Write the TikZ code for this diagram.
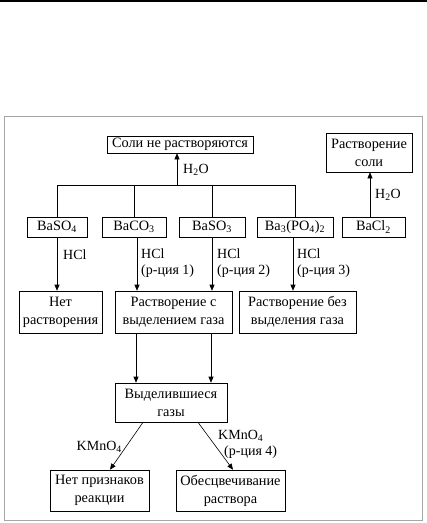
\documentclass[tikz,border=0pt]{standalone}
\usepackage{fontspec}
\setmainfont{Liberation Serif}
\usetikzlibrary{arrows.meta}
\usetikzlibrary{positioning}

\begin{document}
\begin{tikzpicture}[x=1pt,y=-1pt,
    box/.style={draw,line width=0.6pt,align=center,inner sep=0pt,
      font=\fontsize{14.3}{18}\selectfont},
    lbl/.style={anchor=west,inner sep=0pt,align=left,
      font=\fontsize{14}{16}\selectfont},
    arr/.style={-{Triangle[length=6pt,width=5pt]},line width=0.6pt}]
        \useasboundingbox (0,0) rectangle (427,523);
        \draw[line width=1.5pt] (0,1) -- (427,1);
        \draw[gray!70,line width=0.8pt] (4,116) rectangle (422,520);

        % top row
        \node[box,minimum width=146,minimum height=17] (insol) at (180,144.5) {Соли не растворяются};
        \node[box,minimum width=86,minimum height=39] (soluble) at (369,152.5) {Растворение\\соли};

        % salts
        \node[box,minimum width=60,minimum height=20] (so4) at (57,227) {BaSO\textsubscript{4}};
        \node[box,minimum width=64,minimum height=20] (co3) at (134,227) {BaCO\textsubscript{3}};
        \node[box,minimum width=66,minimum height=20] (so3) at (212,227) {BaSO\textsubscript{3}};
        \node[box,minimum width=76,minimum height=20] (po4) at (295,227) {Ba\textsubscript{3}(PO\textsubscript{4})\textsubscript{2}};
        \node[box,minimum width=63,minimum height=20] (cl2) at (373.5,227) {BaCl\textsubscript{2}};

        % after HCl
        \node[box,minimum width=83,minimum height=42] (nodiss) at (60.5,312) {Нет\\растворения};
        \node[box,minimum width=117,minimum height=42] (gasdiss) at (173.5,312) {Растворение с\\выделением газа};
        \node[box,minimum width=117,minimum height=42] (nogas) at (297.5,312) {Растворение без\\выделения газа};

        \node[box,minimum width=112,minimum height=39] (gases) at (171,402.5) {Выделившиеся\\газы};
        \node[box,minimum width=99,minimum height=41] (noreact) at (99.5,490.5) {Нет признаков\\реакции};
        \node[box,minimum width=109,minimum height=41] (decolor) at (230.5,490.5) {Обесцвечивание\\раствора};

        % water
        \coordinate (bus) at (177,185);
        \draw[line width=0.6pt] (so4.north) -- (so4.north |- bus) -- (po4.north |- bus) -- (po4.north);
        \draw[line width=0.6pt] (co3.north) -- (co3.north |- bus);
        \draw[line width=0.6pt] (so3.north) -- (so3.north |- bus);
        \draw[arr] (bus) -- (bus |- insol.south);
        \node[lbl] (w1) at (183,170) {H\textsubscript{2}O};
        \draw[arr] ([xshift=-3.5]cl2.north) -- ([xshift=-3.5]cl2.north |- soluble.south);
        \node[lbl] (w2) at (375,195) {H\textsubscript{2}O};

        % acid
        \draw[arr] (so4.south) -- (so4.south |- nodiss.north);
        \draw[arr] ([xshift=3]co3.south) -- ([xshift=3]co3.south |- gasdiss.north);
        \draw[arr] (so3.south) -- (so3.south |- gasdiss.north);
        \draw[arr] ([xshift=-2]po4.south) -- ([xshift=-2]po4.south |- nogas.north);
        \node[lbl] (a1) at (63,255) {HCl};
        \node[lbl,anchor=north west] (a2) at (141,249) {HCl\\(р-ция 1)};
        \node[lbl,anchor=north west] (a3) at (217,249) {HCl\\(р-ция 2)};
        \node[lbl,anchor=north west] (a4) at (297,249) {HCl\\(р-ция 3)};

        \draw[arr] ([xshift=-37.5]gasdiss.south) -- ([xshift=-37.5]gasdiss.south |- gases.north);
        \draw[arr] ([xshift=37.5]gasdiss.south) -- ([xshift=37.5]gasdiss.south |- gases.north);

        % permanganate
        \draw[arr] ([xshift=-28]gases.south) -- ([xshift=10.5]noreact.north);
        \draw[arr] ([xshift=27]gases.south) -- ([xshift=2.5]decolor.north);
        \node[lbl,anchor=east] (k1) at (122,447) {KMnO\textsubscript{4}};
        \node[lbl] (k2) at (218,436) {KMnO\textsubscript{4}};
        \node[lbl] (k3) at (224,452) {(р-ция 4)};
\end{tikzpicture}
\end{document}
